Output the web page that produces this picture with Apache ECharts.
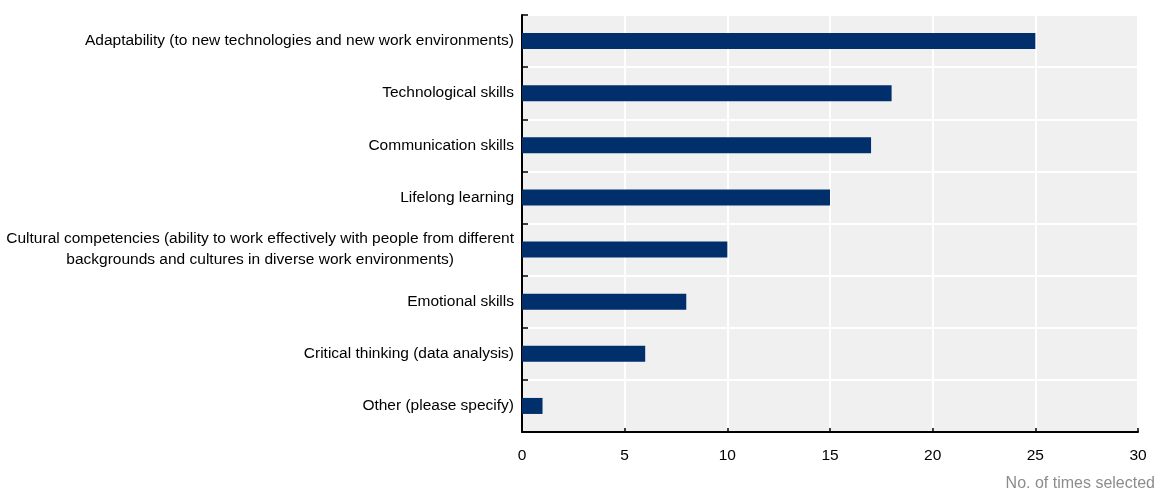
<!DOCTYPE html>
<html>
<head>
<meta charset="utf-8">
<script src="https://cdn.jsdelivr.net/npm/echarts@6/dist/echarts.min.js"></script>
<style>html,body{margin:0;padding:0;background:#fff;}#c{width:1158px;height:490px;}</style>
</head>
<body>
<div id="c"></div>
<script>
const categories = [
  "Adaptability (to new technologies and new work environments)",
  "Technological skills",
  "Communication skills",
  "Lifelong learning",
  "Cultural competencies (ability to work effectively with people from different\nbackgrounds and cultures in diverse work environments)",
  "Emotional skills",
  "Critical thinking (data analysis)",
  "Other (please specify)"
];
const values = [25, 18, 17, 15, 10, 8, 6, 1];
const axisTitle = "No. of times selected";

const chart = echarts.init(document.getElementById('c'));
chart.setOption({
  animation: false,
  textStyle: { fontFamily: '"Liberation Sans", Arial, sans-serif' },
  grid: { left: 522, right: 20, top: 15, bottom: 58, containLabel: false,
          show: true, backgroundColor: '#f0f0f0', borderWidth: 0 },
  title: {
    text: axisTitle, right: -2, bottom: -7,
    textStyle: { fontSize: 16, fontWeight: 'normal', color: '#8c8c8c', fontFamily: '"Liberation Sans", Arial, sans-serif' }
  },
  xAxis: {
    type: 'value', min: 0, max: 30, interval: 5,
    axisLine: { show: true, lineStyle: { color: '#000', width: 2 } },
    axisTick: { show: true, inside: true, length: 4, lineStyle: { color: '#000', width: 1.5 } },
    axisLabel: { color: '#000', fontSize: 15.5, margin: 16 },
    splitLine: { show: true, lineStyle: { color: '#fff', width: 2 } }
  },
  yAxis: {
    type: 'category', inverse: true, data: categories,
    axisLine: { show: true, lineStyle: { color: '#000', width: 2 } },
    axisTick: { show: true, inside: true, length: 6, lineStyle: { color: '#000', width: 1.5 } },
    splitLine: { show: true, lineStyle: { color: '#fff', width: 2 } },
    axisLabel: {
      color: '#000', fontSize: 15.5, margin: 8, lineHeight: 21,
      formatter: v => v.split('\n').map(s => '{a|' + s + '}').join('\n'),
      rich: { a: { align: 'center', fontSize: 15.5, color: '#000', lineHeight: 21 } }
    }
  },
  series: [{
    type: 'bar', data: values, barWidth: 16,
    itemStyle: { color: '#002f6c' }
  }]
});
</script>
</body>
</html>
